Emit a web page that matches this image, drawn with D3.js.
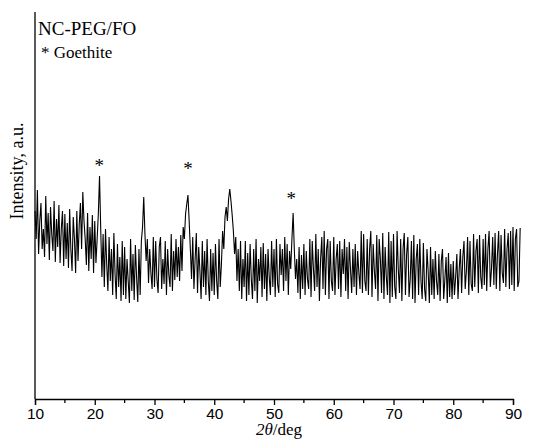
<!DOCTYPE html>
<html>
<head>
<meta charset="utf-8">
<script src="https://cdn.jsdelivr.net/npm/d3@7/dist/d3.min.js"></script>
<style>
  html, body { margin: 0; padding: 0; background: #fff; }
  svg { display: block; }
</style>
</head>
<body>
<div id="chart"></div>
<script>
// XRD pattern, 2theta from 10 deg in steps of 0.2 deg
var startAngle = 10
var stepAngle = 0.2
var intensity = [
  // 10 - 14.8
  188,160,209,145,178,196,150,170,142,203, 155,186,139,192,165,148,198,137,180,152, 194,136,170,188,133,
  // 15 - 19.8
  185,140,176,131,190,150,128,182,160,126, 188,138,174,196,150,207,178,160,134,186, 128,172,140,184,126,
  // 20 - 24.8
  178,136,160,185,223,170,122,165,112,170, 135,108,162,118,150,104,166,125,100,155, 112,142,98,158,104,
  // 25 - 29.8
  152,100,140,118,96,160,108,145,99,154, 122,97,150,104,158,172,202,165,138,160, 116,150,126,110,162,
  // 30 - 34.8
  112,158,120,106,152,162,110,140,115,158, 104,150,124,112,165,108,148,119,160,122, 152,118,164,128,172,
  // 35 - 39.8
  160,185,195,204,178,150,120,162,110,140, 166,106,152,128,100,158,112,148,104,160, 118,98,150,108,146,
  // 40 - 44.8
  104,155,118,100,160,112,135,168,150,182, 192,178,200,210,198,184,168,145,162,118, 150,108,158,100,140,
  // 45 - 49.8
  112,158,98,146,104,155,120,100,150,108, 160,96,140,118,152,102,156,110,145,98, 150,122,104,158,112,
  // 50 - 54.8
  150,102,160,115,106,155,124,150,108,162, 118,155,104,148,130,160,186,150,120,140, 106,152,100,144,110,
  // 55 - 59.8
  155,104,148,120,110,160,102,158,130,108, 165,112,150,98,140,162,110,168,104,150, 160,100,158,118,108,
  // 60 - 64.8
  162,104,140,155,110,158,102,150,125,160, 108,152,100,157,130,106,150,112,155,104, 148,126,110,168,106,
  // 65 - 69.8
  165,118,108,160,104,150,168,102,155,128, 110,164,98,160,140,106,166,100,152,122, 104,167,96,158,102,
  // 70 - 74.8
  165,112,100,168,130,106,160,98,150,166, 104,145,162,102,120,158,100,164,96,140, 155,104,160,118,100,
  // 75 - 79.8
  156,110,98,150,128,96,152,104,140,100, 148,118,104,145,98,138,150,100,120,142, 96,146,102,135,100,
  // 80 - 84.8
  138,104,122,145,100,130,150,106,142,158, 110,128,162,104,158,115,108,165,112,148, 160,106,164,122,110,
  // 85 - 89.8
  160,114,165,108,150,168,112,130,162,114, 166,110,145,168,108,164,126,116,170,112, 150,166,110,168,114,
  // 90 - 91.2
  172,108,160,170,112,118,171
]

var xTicks = [10, 20, 30, 40, 50, 60, 70, 80, 90]
var xMinorTicks = [15, 25, 35, 45, 55, 65, 75, 85]
var starAngles = [20.75, 35.6, 52.9]
var starLevels = [237, 234, 204]

var W = 533, H = 439

var svg = d3.select('#chart').append('svg').attr('width', W).attr('height', H)

var x = d3.scaleLinear().domain([10, 90]).range([35, 513])
var y = d3.scaleLinear().domain([0, 387]).range([399, 12])

var points = intensity.map(function(v, i){ return [startAngle + i * stepAngle, v] })

var line = d3.line()
  .x(function(d){ return x(d[0]) })
  .y(function(d){ return y(d[1]) })

svg.append('path')
  .datum(points)
  .attr('d', line)
  .attr('fill', 'none')
  .attr('stroke', '#000')
  .attr('stroke-width', 1.1)

// axes
var xAxis = d3.axisBottom(x).tickValues(xTicks).tickSize(6).tickPadding(3).tickFormat(d3.format('d'))
var gx = svg.append('g').attr('transform', 'translate(0,399)').call(xAxis)
gx.select('.domain').attr('stroke', '#000').attr('stroke-width', 1.3)
gx.selectAll('.tick line').attr('stroke-width', 1.3)
gx.selectAll('.tick text')
  .attr('font-family', 'Liberation Sans, Arial, sans-serif')
  .attr('font-size', 15.5)
  .attr('fill', '#000')

gx.selectAll('.minor')
  .data(xMinorTicks)
  .enter().append('line')
  .attr('class', 'minor')
  .attr('x1', function(d){ return x(d) }).attr('x2', function(d){ return x(d) })
  .attr('y1', 0).attr('y2', 4)
  .attr('stroke', '#000').attr('stroke-width', 1.3)

svg.append('line')
  .attr('x1', 35).attr('x2', 35)
  .attr('y1', y(387)).attr('y2', 399)
  .attr('stroke', '#000').attr('stroke-width', 1.3)

// labels
svg.append('text')
  .attr('x', 38).attr('y', 35)
  .attr('font-family', 'Liberation Serif, Times New Roman, serif')
  .attr('font-size', 19)
  .text('NC-PEG/FO')

svg.append('text')
  .attr('x', 41).attr('y', 58)
  .attr('font-family', 'Liberation Serif, Times New Roman, serif')
  .attr('font-size', 17)
  .text('* Goethite')

svg.selectAll('.star')
  .data(starAngles)
  .enter().append('text')
  .attr('class', 'star')
  .attr('x', function(d){ return x(d) })
  .attr('y', function(d, i){ return y(starLevels[i]) + 10 })
  .attr('text-anchor', 'middle')
  .attr('font-family', 'Liberation Serif, Times New Roman, serif')
  .attr('font-size', 19)
  .text('*')

svg.append('text')
  .attr('transform', 'translate(23,171) rotate(-90)')
  .attr('text-anchor', 'middle')
  .attr('font-family', 'Liberation Serif, Times New Roman, serif')
  .attr('font-size', 18)
  .text('Intensity, a.u.')

var xt = svg.append('text')
  .attr('x', 279).attr('y', 435)
  .attr('text-anchor', 'middle')
  .attr('font-family', 'Liberation Serif, Times New Roman, serif')
  .attr('font-size', 17)
xt.append('tspan').attr('font-style', 'italic').text('2θ')
xt.append('tspan').text('/deg')
</script>
</body>
</html>
